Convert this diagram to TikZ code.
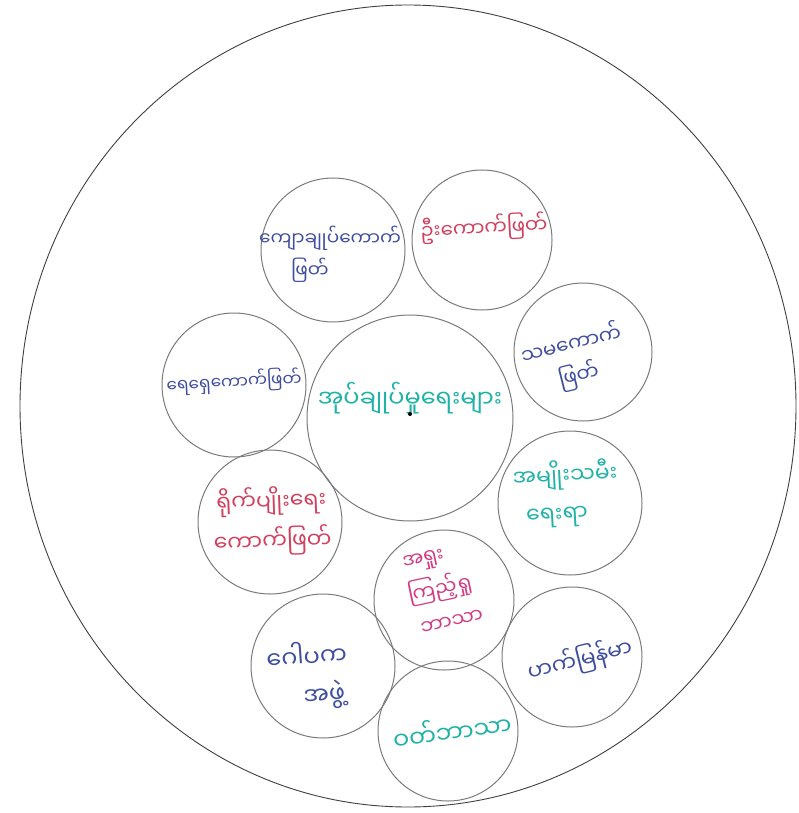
\documentclass[tikz,border=0pt]{standalone}
\usepackage{fontspec}
\usetikzlibrary{shapes.geometric}
\newfontfamily\mya[Script=Myanmar]{Noto Sans Myanmar UI}
\definecolor{inkblue}{HTML}{3F4E9E}
\definecolor{inkred}{HTML}{D2405E}
\definecolor{inkteal}{HTML}{1FB2A6}
\definecolor{inkpink}{HTML}{D23C84}
\definecolor{rim}{HTML}{7A7A7A}
\tikzset{
  ring/.style={circle,draw=rim,line width=1pt,inner sep=0pt},
  txt/.style={font=\mya,align=center,inner sep=0pt},
}
\begin{document}
\begin{tikzpicture}[x=1pt,y=-1pt]
\useasboundingbox (0,0) rectangle (799,813);
\fill[white] (0,0) rectangle (799,813);
\node[ellipse,draw=black!75,line width=0.9pt,minimum width=776pt,minimum height=802pt,inner sep=0pt] (outer) at (408,406) {};
% circles
\node[ring,minimum size=144pt] (tl) at (333,250) {};
\node[ring,minimum size=140pt] (tr) at (482,240) {};
\node[ring,minimum size=144pt] (l) at (234,385) {};
\node[ring,minimum size=206pt] (c) at (410,418) {};
\node[ring,minimum size=138pt] (r) at (583,352) {};
\node[ring,minimum size=144pt] (rl) at (570,503) {};
\node[ring,minimum size=144pt] (ll) at (270,522) {};
\node[ring,minimum size=140pt] (pk) at (444,600) {};
\node[ring,minimum size=144pt] (bl) at (323,666) {};
\node[ring,minimum size=140pt] (br) at (572,657) {};
\node[ring,minimum size=140pt] (b) at (448,731) {};
% texts
\node[txt,text=inkblue,font=\mya\fontsize{18.5}{32}\selectfont] (ttl) at (330,254) {ကျောချုပ်ကောက်\\\hspace*{-40pt}ဖြတ်};
\node[txt,text=inkred,rotate=3,font=\mya\fontsize{20}{28}\selectfont] (ttr) at (484,228) {ဦးကောက်ဖြတ်};
\node[txt,text=inkblue,rotate=3,font=\mya\fontsize{17}{24}\selectfont] (tl2) at (234,382) {ရေရှေကောက်ဖြတ်};
\node[txt,text=inkteal,font=\mya\fontsize{24}{30}\selectfont] (tc) at (410,398) {အုပ်ချုပ်မှုရေးများ};
\node[txt,text=inkblue,rotate=14,font=\mya\fontsize{20}{32}\selectfont] (tr2) at (575,360) {သမကောက်\\ဖြတ်};
\node[txt,text=inkteal,rotate=3,font=\mya\fontsize{22}{38}\selectfont] (trl) at (566,494) {အမျိုးသမီး\\\hspace*{-20pt}ရေးရာ};
\node[txt,text=inkred,rotate=2,font=\mya\fontsize{22}{40}\selectfont] (tll) at (272,521) {ရိုက်ပျိုးရေး\\ကောက်ဖြတ်};
\node[txt,text=inkpink,rotate=12,font=\mya\fontsize{20}{34}\selectfont] (tpk) at (440,590) {\hspace*{-20pt}အရှုး\\ကြည့်ရှု\\\hspace*{10pt}ဘာသာ};
\node[txt,text=inkblue,rotate=4,font=\mya\fontsize{24}{38}\selectfont] (tbl) at (308,676) {ဂေါပက\\\hspace*{30pt}အဖွဲ့};
\node[txt,text=inkblue,rotate=14,font=\mya\fontsize{22}{30}\selectfont] (tbr) at (580,660) {ဟက်မြန်မာ};
\node[txt,text=inkteal,rotate=8,font=\mya\fontsize{24}{30}\selectfont] (tb) at (452,730) {ဝတ်ဘာသာ};
\fill[black] (410,414) circle (2pt) coordinate (dot);
\end{tikzpicture}
\end{document}
